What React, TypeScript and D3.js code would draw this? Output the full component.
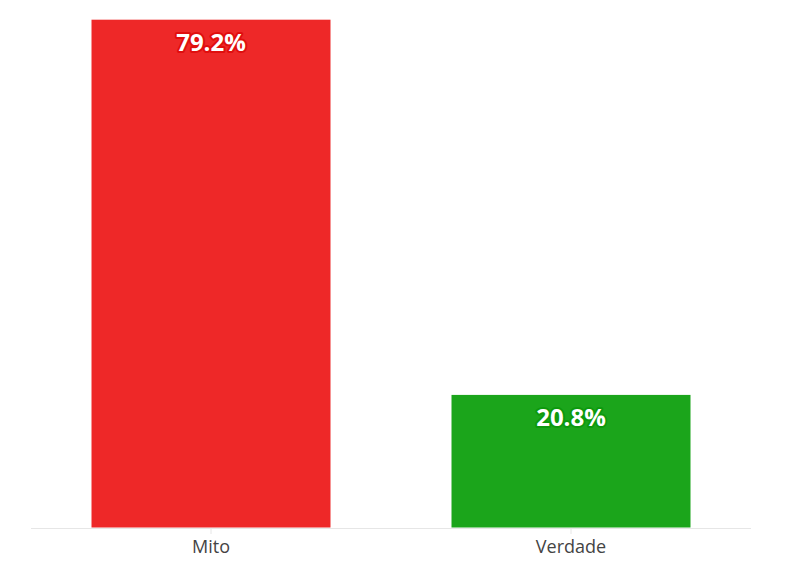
import React from 'react';
import * as d3 from 'd3';

const categories = ['Mito', 'Verdade'];
const values = [79.2, 20.8];
const barColors = ['#ee2828', '#1ba51b'];
const outlineColors = ['#e00e0e', '#0d990d'];

const width = 796;
const height = 575;
const margin = { top: 14, right: 45, bottom: 47, left: 31 };

const App: React.FC = () => {
  const innerWidth = width - margin.left - margin.right;
  const innerHeight = height - margin.top - margin.bottom;

  const xScale = d3
    .scaleBand<string>()
    .domain(categories)
    .range([0, innerWidth])
    .paddingInner(1 / 3)
    .paddingOuter(1 / 6);

  const yScale = d3.scaleLinear().domain([0, 80]).range([innerHeight, 0]);

  const font = '"Open Sans", "Noto Sans", sans-serif';

  return (
    <svg
      width={width}
      height={height}
      style={{ position: 'absolute', left: 0, top: 0 }}
      role="img"
      aria-label="Mito ou Verdade"
    >
      <rect width={width} height={height} fill="#ffffff" />
      <g transform={`translate(${margin.left},${margin.top})`}>
        {/* bars */}
        {categories.map((c, i) => (
          <rect
            key={c}
            x={xScale(c)}
            y={yScale(values[i])}
            width={xScale.bandwidth()}
            height={innerHeight - yScale(values[i])}
            fill={barColors[i]}
            stroke="#ffffff"
            strokeWidth={1}
          />
        ))}

        {/* x-axis */}
        <line x1={0} x2={innerWidth} y1={innerHeight + 0.5} y2={innerHeight + 0.5} stroke="#e6e6e6" />
        {categories.map((c) => {
          const cx = (xScale(c) || 0) + xScale.bandwidth() / 2;
          return (
            <g key={c} transform={`translate(${cx},${innerHeight})`}>
              <line y1={0} y2={6} stroke="#e6e6e6" />
              <text
                y={25}
                textAnchor="middle"
                fontFamily={font}
                fontSize={18}
                fill="#444444"
              >
                {c}
              </text>
            </g>
          );
        })}

        {/* data labels */}
        {categories.map((c, i) => {
          const cx = (xScale(c) || 0) + xScale.bandwidth() / 2;
          return (
            <text
              key={c}
              x={cx}
              y={yScale(values[i]) + 32}
              textAnchor="middle"
              fontFamily={font}
              fontSize={24}
              fontWeight="bold"
              fill="#ffffff"
              stroke={outlineColors[i]}
              strokeWidth={4}
              strokeLinejoin="round"
              paintOrder="stroke"
            >
              {`${values[i].toFixed(1)}%`}
            </text>
          );
        })}
      </g>
    </svg>
  );
};

export default App;
